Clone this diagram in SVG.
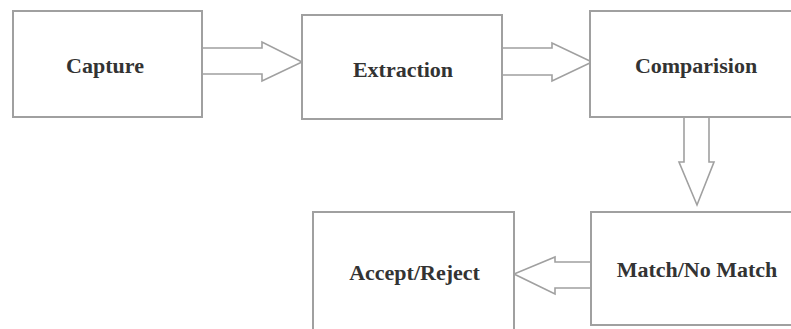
<svg xmlns="http://www.w3.org/2000/svg" width="791" height="329" viewBox="0 0 791 329">
<style>
.box{fill:#fff;stroke:#a0a0a0;stroke-width:2}
.arr{fill:#fff;stroke:#a0a0a0;stroke-width:1.6;stroke-linejoin:miter}
.lbl{font-family:"Liberation Serif","Times New Roman",serif;font-weight:bold;font-size:22px;fill:#333;text-anchor:middle}
</style>
<rect width="791" height="329" fill="#fff"/>
<g id="connectors">
<polygon class="arr" points="202,48 262,48 262,42 302,62 262,81 262,74 202,74"/>
<polygon class="arr" points="502,48 552,48 552,43 592,62 552,81 552,75 502,75"/>
<polygon class="arr" points="684,117 709,117 709,162 714,162 697,205 679,162 684,162"/>
<polygon class="arr" points="591,262 555,262 555,257 514,274 555,294 555,288 591,288"/>
</g>
<g id="capture">
<rect class="box" x="13" y="11" width="189" height="106"/>
<text class="lbl" x="105" y="73">Capture</text>
</g>
<g id="extraction">
<rect class="box" x="302" y="15" width="200" height="104"/>
<text class="lbl" x="403" y="77">Extraction</text>
</g>
<g id="comparision">
<rect class="box" x="590" y="11" width="210" height="106"/>
<text class="lbl" x="696" y="73">Comparision</text>
</g>
<g id="match">
<rect class="box" x="591" y="212" width="210" height="113"/>
<text class="lbl" x="697" y="277">Match/No Match</text>
</g>
<g id="accept">
<rect class="box" x="313" y="212" width="201" height="130"/>
<text class="lbl" x="414.5" y="280">Accept/Reject</text>
</g>
</svg>
